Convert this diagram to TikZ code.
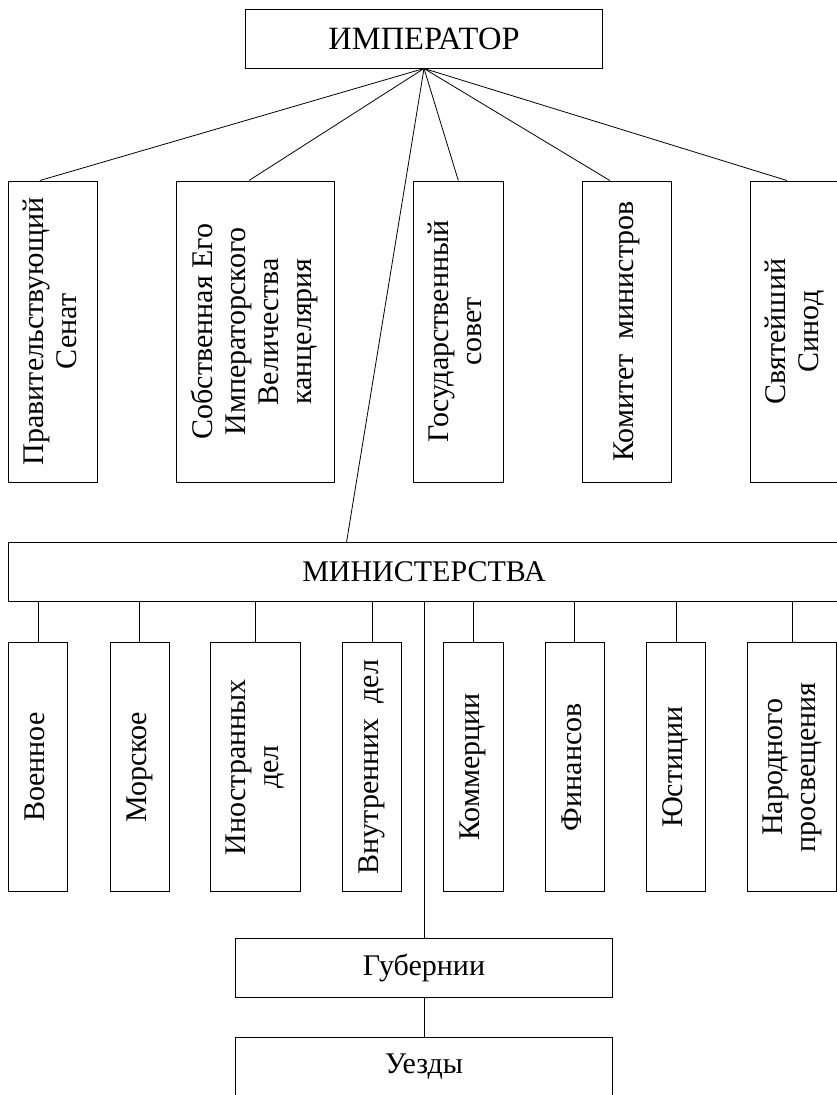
\documentclass[tikz,border=0pt]{standalone}
\usepackage{fontspec}
\usepackage{graphicx}
\setmainfont{Liberation Serif}
\usetikzlibrary{calc}
\newcommand{\uptext}[1]{\rotatebox{90}{\begin{tabular}{@{}c@{}}#1\end{tabular}}}

\begin{document}
\begin{tikzpicture}[
  x=1pt, y=-1pt,
  unit/.style={
    rectangle,
    draw=black,
    line width=1pt,
    inner sep=0pt,
    align=center,
    font=\fontsize{30}{33}\selectfont
  },
  wide/.style={unit, minimum width=377pt, minimum height=59pt},
  tall/.style={unit, minimum height=301pt},
  low/.style={unit, minimum height=249pt},
  link/.style={line width=0.8pt, draw=black}
]
\useasboundingbox (0,0) rectangle (837,1095);
\clip (0,0) rectangle (837,1095);

% top level
\node[unit, minimum width=357pt, minimum height=59pt, font=\fontsize{32.5}{36}\selectfont] (emperor) at (424,38.5) {ИМПЕРАТОР};

% supreme bodies
\node[tall, minimum width=89.5pt] (senate) at (53,331.5) {\uptext{Правительствующий\\Сенат}};
\node[tall, minimum width=157.6pt] (chancery) at (255.5,331.5) {\uptext{Собственная Его\\Императорского\\Величества\\канцелярия}};
\node[tall, minimum width=90pt] (council) at (458.3,331.5) {\uptext{Государственный\\совет}};
\node[tall, minimum width=89.5pt] (committee) at (627,331.5) {\uptext{Комитет\ \ министров}};
\node[tall, minimum width=89.5pt] (synod) at (795.5,331.5) {\uptext{Святейший\\Синод}};

% ministries
\node[unit, minimum width=832pt, minimum height=59pt] (ministries) at (424,572.2) {МИНИСТЕРСТВА};

\node[low, minimum width=59.4pt] (war) at (38,767.2) {\uptext{Военное}};
\node[low, minimum width=59pt] (navy) at (139.5,767.2) {\uptext{Морское}};
\node[low, minimum width=89.3pt] (foreign) at (255.4,767.2) {\uptext{Иностранных\\дел}};
\node[low, minimum width=59pt] (interior) at (372.2,767.2) {\uptext{Внутренних\ \ дел}};
\node[low, minimum width=60pt] (commerce) at (473.3,767.2) {\uptext{Коммерции}};
\node[low, minimum width=59.3pt] (finance) at (574.7,767.2) {\uptext{Финансов}};
\node[low, minimum width=59pt] (justice) at (676.2,767.2) {\uptext{Юстиции}};
\node[low, minimum width=89.3pt] (education) at (792.3,767.2) {\uptext{Народного\\просвещения}};

% local government
\node[wide] (provinces) at (424,967.5) {Губернии};
\node[wide] (districts) at (424,1066.5) {Уезды};

% connectors
\foreach \n/\f in {senate/0.355, chancery/0.459, council/0.5, committee/0.31, synod/0.405, ministries/0.407}
  \draw[link] (emperor.south) -- ($(\n.north west)!\f!(\n.north east)$);
\foreach \n in {war, navy, foreign, interior, commerce, finance, justice, education}
  \draw[link] (ministries.south -| \n.north) -- (\n.north);
\draw[link] (ministries.south -| provinces.north) -- (provinces.north);
\draw[link] (provinces.south) -- (districts.north);

\end{tikzpicture}
\end{document}
